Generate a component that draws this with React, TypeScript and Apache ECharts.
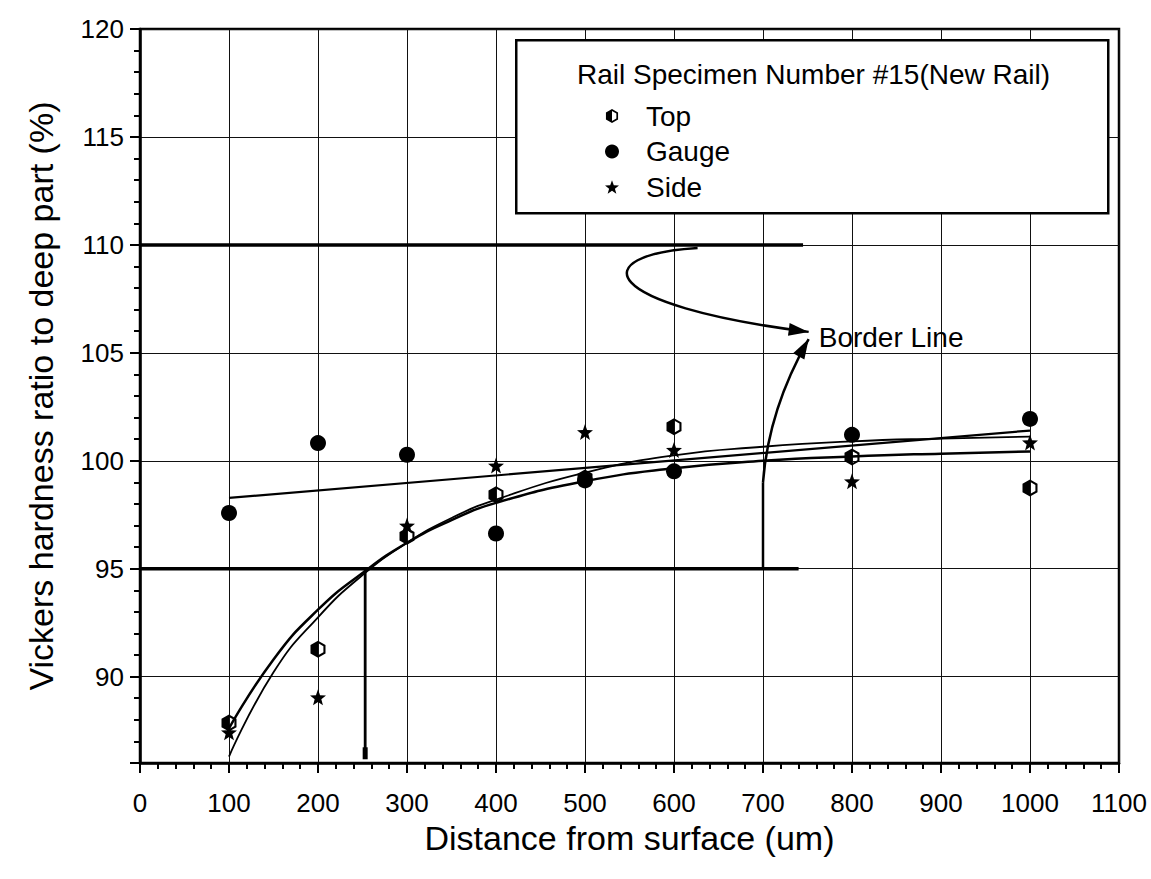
import React, { useEffect, useRef } from "react";
import * as echarts from "echarts";

const FONT = "'Liberation Sans', Arial, Helvetica, sans-serif";

// ---- measured data ----
const distances = [100, 200, 300, 400, 500, 600, 800, 1000];
const topValues = [87.85, 91.27, 96.5, 98.43, 99.2, 101.58, 100.17, 98.74];
const gaugeValues = [97.58, 100.82, 100.28, 96.63, 99.09, 99.51, 101.2, 101.94];
const sideValues = [87.42, 89.04, 97.0, 99.78, 101.33, 100.5, 99.05, 100.85];

// ---- fitted curves ----
const fitDistances = [100, 150, 200, 250, 300, 350, 400, 500, 600, 700, 800, 900, 1000];
const topFit = [87.6, 90.8, 93.1, 94.8, 96.2, 97.25, 98.05, 99.05, 99.65, 100.0, 100.2, 100.33, 100.43];
const sideFit = [86.3, 90.2, 92.75, 94.7, 96.2, 97.35, 98.2, 99.45, 100.25, 100.65, 100.9, 101.03, 101.12];
const gaugeFitDistances = [100, 1000];
const gaugeFit = [98.28, 101.4];

// ---- border-line annotation (data units) ----
const borderLevels = [110, 95];
const borderLineEnds = [745, 740];
const criticalDepth = 253;
const criticalBottom = 86.45;
const lowerArrowStem = [700, 95, 99]; // x, from y, to y
const upperArrowCurve = [[626.5, 109.86], [500.5, 109.53], [511.8, 107.22], [751.3, 105.97]];
const lowerArrowCurve = [[700, 99], [706.3, 102.4], [751.3, 105.64]];
const borderLabelPos = [762.6, 105.73];

const HEX_PATH =
  "path://M0,-10L8.66,-5L8.66,5L0,10L-8.66,5L-8.66,-5Z M0,-7.2L-6.24,-3.6L-6.24,3.6L0,7.2L6.24,3.6L6.24,-3.6Z M0,-7.2L0,7.2L-6.24,3.6L-6.24,-3.6Z";
const STAR_PATH =
  "path://M0,-10L2.45,-3.37L9.511,-3.09L3.96,1.29L5.878,8.09L0,4.17L-5.878,8.09L-3.96,1.29L-9.511,-3.09L-2.45,-3.37Z";

const pair = (xs: number[], ys: number[]) => xs.map((x, i) => [x, ys[i]]);

export default function App() {
  const ref = useRef<HTMLDivElement>(null);

  useEffect(() => {
    const chart = echarts.init(ref.current!, null, { renderer: "svg" });
    const black = "#000";
    const lineSeries = (name: string, data: number[][], width: number, smooth: any = false) => ({
      name,
      type: "line",
      data,
      smooth,
      showSymbol: false,
      symbol: "none",
      lineStyle: { color: black, width },
      itemStyle: { color: black },
      z: 2,
      silent: true,
    });

    const option: any = {
      animation: false,
      backgroundColor: "#fff",
      textStyle: { fontFamily: FONT, color: black },
      grid: {
        left: 140,
        right: 32,
        top: 29,
        bottom: 116,
        show: true,
        borderColor: black,
        borderWidth: 2.5,
        backgroundColor: "transparent",
      },
      legend: {
        data: ["Top", "Gauge", "Side"],
        orient: "vertical",
        left: 600,
        top: 97,
        itemWidth: 14,
        itemHeight: 14,
        itemGap: 7.5,
        selectedMode: false,
        z: 20,
        textStyle: {
          fontSize: 28,
          fontFamily: FONT,
          color: black,
          lineHeight: 28,
          padding: [0, 0, 0, 22],
        },
      },
      xAxis: {
        type: "value",
        min: 0,
        max: 1100,
        interval: 100,
        name: "Distance from surface (um)",
        nameLocation: "middle",
        nameGap: 38,
        nameTextStyle: { fontSize: 34, fontFamily: FONT, color: black },
        axisLine: { lineStyle: { color: black, width: 2.5 } },
        axisTick: { show: true, length: 10, lineStyle: { color: black, width: 2 } },
        minorTick: { show: true, splitNumber: 5, length: 6, lineStyle: { color: black, width: 2 } },
        axisLabel: {
          fontSize: 26,
          fontFamily: FONT,
          color: black,
          margin: 27,
          formatter: (v: number) => String(v),
        },
        splitLine: { show: true, lineStyle: { color: "#111", width: 1 } },
      },
      yAxis: {
        type: "value",
        min: 86,
        max: 120,
        splitNumber: 7,
        name: "Vickers hardness ratio to deep part (%)",
        nameLocation: "middle",
        nameGap: 82,
        nameTextStyle: { fontSize: 34, fontFamily: FONT, color: black },
        axisLine: { lineStyle: { color: black, width: 2.5 } },
        axisTick: { show: true, length: 10, lineStyle: { color: black, width: 2 } },
        minorTick: { show: true, splitNumber: 5, length: 6, lineStyle: { color: black, width: 2 } },
        axisLabel: {
          fontSize: 26,
          fontFamily: FONT,
          color: black,
          margin: 16,
          showMinLabel: false,
          formatter: (v: number) => String(v),
        },
        splitLine: { show: true, lineStyle: { color: "#111", width: 1 } },
      },
      series: [
        lineSeries("Top fit", pair(fitDistances, topFit), 2.5, 0.5),
        lineSeries("Side fit", pair(fitDistances, sideFit), 1.8, 0.5),
        lineSeries("Gauge fit", pair(gaugeFitDistances, gaugeFit), 2.2),
        ...borderLevels.map((lvl, i) =>
          lineSeries("Border " + lvl, [[0, lvl], [borderLineEnds[i], lvl]], 3.5)
        ),
        {
          ...lineSeries("Critical depth", [], 2.8),
          data: [
            { value: [criticalDepth, 95], symbol: "none" },
            { value: [criticalDepth, criticalBottom], symbol: "rect", symbolSize: [5, 12] },
          ],
          showSymbol: true,
          symbol: "rect",
        },
        lineSeries(
          "Border stem",
          [[lowerArrowStem[0], lowerArrowStem[1]], [lowerArrowStem[0], lowerArrowStem[2]]],
          2.5
        ),
        {
          name: "Top",
          type: "scatter",
          data: pair(distances, topValues),
          symbol: HEX_PATH,
          symbolSize: [15, 17],
          itemStyle: { color: black, opacity: 1 },
          z: 5,
        },
        {
          name: "Gauge",
          type: "scatter",
          data: pair(distances, gaugeValues),
          symbol: "circle",
          symbolSize: 16,
          itemStyle: { color: black, opacity: 1 },
          z: 5,
        },
        {
          name: "Side",
          type: "scatter",
          data: pair(distances, sideValues),
          symbol: STAR_PATH,
          symbolSize: 16,
          itemStyle: { color: black, opacity: 1 },
          z: 5,
        },
      ],
    };

    chart.setOption(option);

    const px = (p: number[]) => chart.convertToPixel({ gridIndex: 0 }, p) as number[];

    const arrowHead = (from: number[], tip: number[], len: number, half: number) => {
      const dx = tip[0] - from[0];
      const dy = tip[1] - from[1];
      const d = Math.hypot(dx, dy) || 1;
      const ux = dx / d;
      const uy = dy / d;
      const bx = tip[0] - ux * len;
      const by = tip[1] - uy * len;
      return [
        [tip[0], tip[1]],
        [bx - uy * half, by + ux * half],
        [bx + uy * half, by - ux * half],
      ];
    };

    const u = upperArrowCurve.map(px);
    const l = lowerArrowCurve.map(px);
    const lab = px(borderLabelPos);

    const graphics: any[] = [
      {
        type: "rect",
        left: 515,
        top: 39,
        shape: { width: 592, height: 173 },
        style: { fill: "#fff", stroke: black, lineWidth: 2.5 },
        z: 10,
      },
      {
        type: "text",
        left: 577,
        top: 60,
        style: {
          text: "Rail Specimen Number #15(New Rail)",
          font: `28px ${FONT}`,
          fill: black,
        },
        z: 21,
      },
      {
        type: "bezierCurve",
        shape: {
          x1: u[0][0], y1: u[0][1],
          cpx1: u[1][0], cpy1: u[1][1],
          cpx2: u[2][0], cpy2: u[2][1],
          x2: u[3][0], y2: u[3][1],
        },
        style: { stroke: black, lineWidth: 2.5, fill: "none" },
        z: 15,
      },
      {
        type: "polygon",
        shape: { points: arrowHead(u[2], u[3], 20, 6.5) },
        style: { fill: black },
        z: 15,
      },
      {
        type: "bezierCurve",
        shape: {
          x1: l[0][0], y1: l[0][1],
          cpx1: l[1][0], cpy1: l[1][1],
          x2: l[2][0], y2: l[2][1],
        },
        style: { stroke: black, lineWidth: 2.5, fill: "none" },
        z: 15,
      },
      {
        type: "polygon",
        shape: { points: arrowHead(l[1], l[2], 20, 6.5) },
        style: { fill: black },
        z: 15,
      },
      {
        type: "text",
        x: lab[0],
        y: lab[1],
        style: {
          text: "Border Line",
          font: `28px ${FONT}`,
          fill: black,
          textVerticalAlign: "middle",
          verticalAlign: "middle",
        },
        z: 15,
      },
    ];

    chart.setOption({ graphic: graphics });

    return () => chart.dispose();
  }, []);

  return (
    <div
      ref={ref}
      style={{ position: "absolute", left: 0, top: 0, width: 1151, height: 879, background: "#fff" }}
    />
  );
}
